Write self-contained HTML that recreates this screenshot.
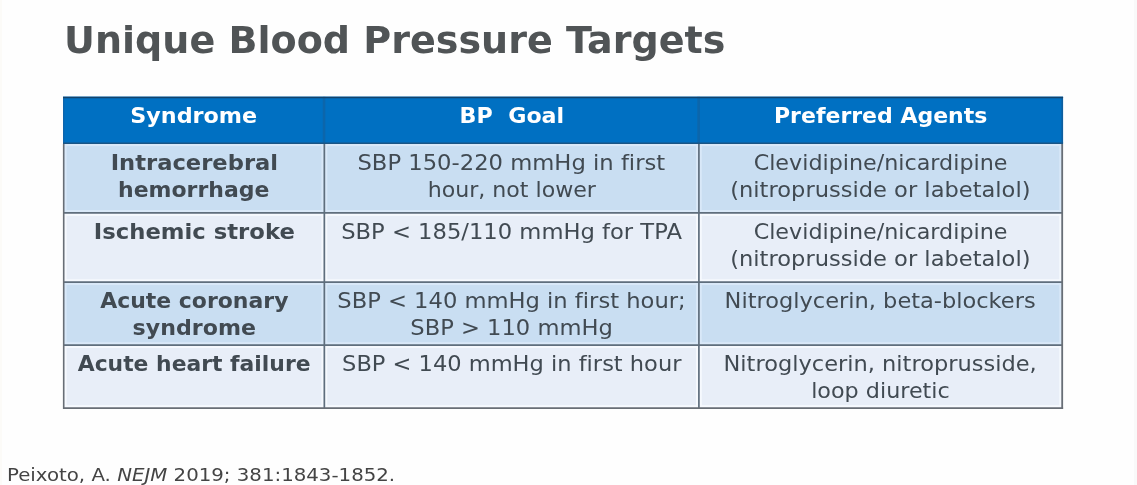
<!DOCTYPE html>
<html lang="en">
<head>
<meta charset="utf-8">
<title>Unique Blood Pressure Targets</title>
<style>
html,body{margin:0;padding:0;}
body{width:1137px;height:485px;overflow:hidden;background:#fefefe;position:relative;font-family:"DejaVu Sans","Liberation Sans",sans-serif;color:#414a52;font-variant-ligatures:none;font-kerning:normal;}
#edgeR{position:absolute;right:0;top:0;width:3px;height:485px;background:#f9f9f9;}
#edgeL{position:absolute;left:0;top:0;width:2px;height:485px;background:#fcfbf8;}
#grid{position:absolute;left:0;top:0;}
.ln{display:block;width:fit-content;margin:0 auto;white-space:nowrap;transform-origin:50% 50%;}
h1{position:absolute;left:63.6px;top:18.6px;margin:0;font-size:37.1px;line-height:44px;font-weight:bold;color:#505456;white-space:nowrap;}
h1 .ln{display:inline-block;transform-origin:0 50%;}
table{position:absolute;left:64px;top:97px;width:998px;border-collapse:collapse;border-spacing:0;table-layout:fixed;}
col.c1{width:260px}col.c2{width:375px}col.c3{width:363px}
td,th{border:0;padding:6px 0 0 0;vertical-align:top;text-align:center;font-size:22px;line-height:27px;overflow:visible;background:transparent;}
th{color:#fff;font-weight:bold;padding-top:5px;}
tr.h{height:46px}tr.r1{height:70px}tr.r2{height:69px}tr.r3{height:63px}tr.r4{height:63px}
td.s{font-weight:bold;}
#refbox{position:absolute;left:6.6px;top:464.8px;font-size:18.5px;line-height:20px;color:#444;white-space:nowrap;}
#refbox .ln{display:inline-block;transform-origin:0 50%;}
</style>
</head>
<body>
<div id="edgeL"></div><div id="edgeR"></div>
<svg id="grid" width="1137" height="485" viewBox="0 0 1137 485">
<rect x="63.0" y="96.60000000000001" width="1000.10" height="46.60" fill="#0070c2"/>
<rect x="63.7" y="143.2" width="998.50" height="69.75" fill="#c9def2"/>
<rect x="65.50" y="145.00" width="257.05" height="66.15" fill="none" stroke="#d9e8f8" stroke-width="2.2"/>
<rect x="326.15" y="145.00" width="370.95" height="66.15" fill="none" stroke="#d9e8f8" stroke-width="2.2"/>
<rect x="700.70" y="145.00" width="359.70" height="66.15" fill="none" stroke="#d9e8f8" stroke-width="2.2"/>
<rect x="63.7" y="212.95" width="998.50" height="69.20" fill="#e8eef8"/>
<rect x="65.50" y="214.75" width="257.05" height="65.60" fill="none" stroke="#f6f9fe" stroke-width="2.2"/>
<rect x="326.15" y="214.75" width="370.95" height="65.60" fill="none" stroke="#f6f9fe" stroke-width="2.2"/>
<rect x="700.70" y="214.75" width="359.70" height="65.60" fill="none" stroke="#f6f9fe" stroke-width="2.2"/>
<rect x="63.7" y="282.15" width="998.50" height="62.90" fill="#c9def2"/>
<rect x="65.50" y="283.95" width="257.05" height="59.30" fill="none" stroke="#d9e8f8" stroke-width="2.2"/>
<rect x="326.15" y="283.95" width="370.95" height="59.30" fill="none" stroke="#d9e8f8" stroke-width="2.2"/>
<rect x="700.70" y="283.95" width="359.70" height="59.30" fill="none" stroke="#d9e8f8" stroke-width="2.2"/>
<rect x="63.7" y="345.05" width="998.50" height="63.05" fill="#e8eef8"/>
<rect x="65.50" y="346.85" width="257.05" height="59.45" fill="none" stroke="#f6f9fe" stroke-width="2.2"/>
<rect x="326.15" y="346.85" width="370.95" height="59.45" fill="none" stroke="#f6f9fe" stroke-width="2.2"/>
<rect x="700.70" y="346.85" width="359.70" height="59.45" fill="none" stroke="#f6f9fe" stroke-width="2.2"/>
<line x1="324.05" y1="96.9" x2="324.05" y2="143.2" stroke="#0c66ab" stroke-width="2.6"/>
<line x1="698.60" y1="96.9" x2="698.60" y2="143.2" stroke="#0c66ab" stroke-width="2.6"/>
<line x1="63.7" y1="96.9" x2="63.7" y2="143.2" stroke="#0d65ad" stroke-width="1.4"/>
<line x1="1062.2" y1="96.9" x2="1062.2" y2="143.2" stroke="#0f5f9f" stroke-width="1.6"/>
<line x1="63.0" y1="143.2" x2="1063.1000000000001" y2="143.2" stroke="#1a5585" stroke-width="1.6"/>
<line x1="63.0" y1="97.5" x2="1063.1000000000001" y2="97.5" stroke="#14446c" stroke-width="1.7"/>
<line x1="63.0" y1="212.95" x2="1063.0" y2="212.95" stroke="#5f6e7d" stroke-width="1.7"/>
<line x1="63.0" y1="282.15" x2="1063.0" y2="282.15" stroke="#5f6e7d" stroke-width="1.7"/>
<line x1="63.0" y1="345.05" x2="1063.0" y2="345.05" stroke="#5f6e7d" stroke-width="1.7"/>
<line x1="324.35" y1="144.0" x2="324.35" y2="408.1" stroke="#5f6e7d" stroke-width="1.7"/>
<line x1="698.9" y1="144.0" x2="698.9" y2="408.1" stroke="#5f6e7d" stroke-width="1.7"/>
<line x1="63.7" y1="144.0" x2="63.7" y2="408.90000000000003" stroke="#686e76" stroke-width="1.6"/>
<line x1="1062.2" y1="144.0" x2="1062.2" y2="408.90000000000003" stroke="#686e76" stroke-width="1.8"/>
<line x1="63.0" y1="408.1" x2="1063.1000000000001" y2="408.1" stroke="#686e76" stroke-width="1.8"/>
</svg>
<h1><span class="ln" id="title" style="transform:translateY(0.37px) scaleX(1.0264)">Unique Blood Pressure Targets</span></h1>
<table>
<colgroup><col class="c1"><col class="c2"><col class="c3"></colgroup>
<tr class="h"><th><span class="ln" id="h1" style="transform:translateY(-0.41px) scaleX(1.0113)">Syndrome</span></th><th><span class="ln" id="h2" style="transform:translateY(-0.41px) scaleX(1.0082)">BP&nbsp; Goal</span></th><th><span class="ln" id="h3" style="transform:translateY(-0.41px) scaleX(1.0002)">Preferred Agents</span></th></tr>
<tr class="a r1"><td class="s"><span class="ln" id="a11" style="transform:translateY(-0.21px) scaleX(1.0287)">Intracerebral</span><span class="ln" id="a12" style="transform:translateY(-0.46px) scaleX(0.9995)">hemorrhage</span></td><td><span class="ln" id="a21" style="transform:translateY(-0.21px) scaleX(1.0305)">SBP 150-220 mmHg in first</span><span class="ln" id="a22" style="transform:translateY(-0.46px) scaleX(1.0044)">hour, not lower</span></td><td><span class="ln" id="a31" style="transform:translateY(-0.21px) scaleX(1.0107)">Clevidipine/nicardipine</span><span class="ln" id="a32" style="transform:translateY(-0.46px) scaleX(1.0256)">(nitroprusside or labetalol)</span></td></tr>
<tr class="b r2"><td class="s"><span class="ln" id="b11" style="transform:translateY(-0.71px) scaleX(1.0327)">Ischemic stroke</span></td><td><span class="ln" id="b21" style="transform:translateY(-0.71px) scaleX(1.0290)">SBP &lt; 185/110 mmHg for TPA</span></td><td><span class="ln" id="b31" style="transform:translateY(-0.71px) scaleX(1.0107)">Clevidipine/nicardipine</span><span class="ln" id="b32" style="transform:translateY(-1.11px) scaleX(1.0256)">(nitroprusside or labetalol)</span></td></tr>
<tr class="a r3"><td class="s"><span class="ln" id="c11" style="transform:translateY(-0.51px) scaleX(0.9980)">Acute coronary</span><span class="ln" id="c12" style="transform:translateY(-1.06px) scaleX(1.0062)">syndrome</span></td><td><span class="ln" id="c21" style="transform:translateY(-0.51px) scaleX(1.0279)">SBP &lt; 140 mmHg in first hour;</span><span class="ln" id="c22" style="transform:translateY(-1.06px) scaleX(1.0274)">SBP &gt; 110 mmHg</span></td><td><span class="ln" id="c31" style="transform:translateY(-0.51px) scaleX(1.0226)">Nitroglycerin, beta-blockers</span></td></tr>
<tr class="b r4"><td class="s"><span class="ln" id="d11" style="transform:translateY(-0.51px) scaleX(0.9939)">Acute heart failure</span></td><td><span class="ln" id="d21" style="transform:translateY(-0.51px) scaleX(1.0236)">SBP &lt; 140 mmHg in first hour</span></td><td><span class="ln" id="d31" style="transform:translateY(-0.51px) scaleX(1.0226)">Nitroglycerin, nitroprusside,</span><span class="ln" id="d32" style="transform:translateY(-1.01px) scaleX(1.0119)">loop diuretic</span></td></tr>
</table>
<div id="refbox"><span class="ln" id="ref" style="transform:translateY(0.30px) scaleX(1.0679)">Peixoto, A. <i>NEJM</i> 2019; 381:1843-1852.</span></div>
</body>
</html>
